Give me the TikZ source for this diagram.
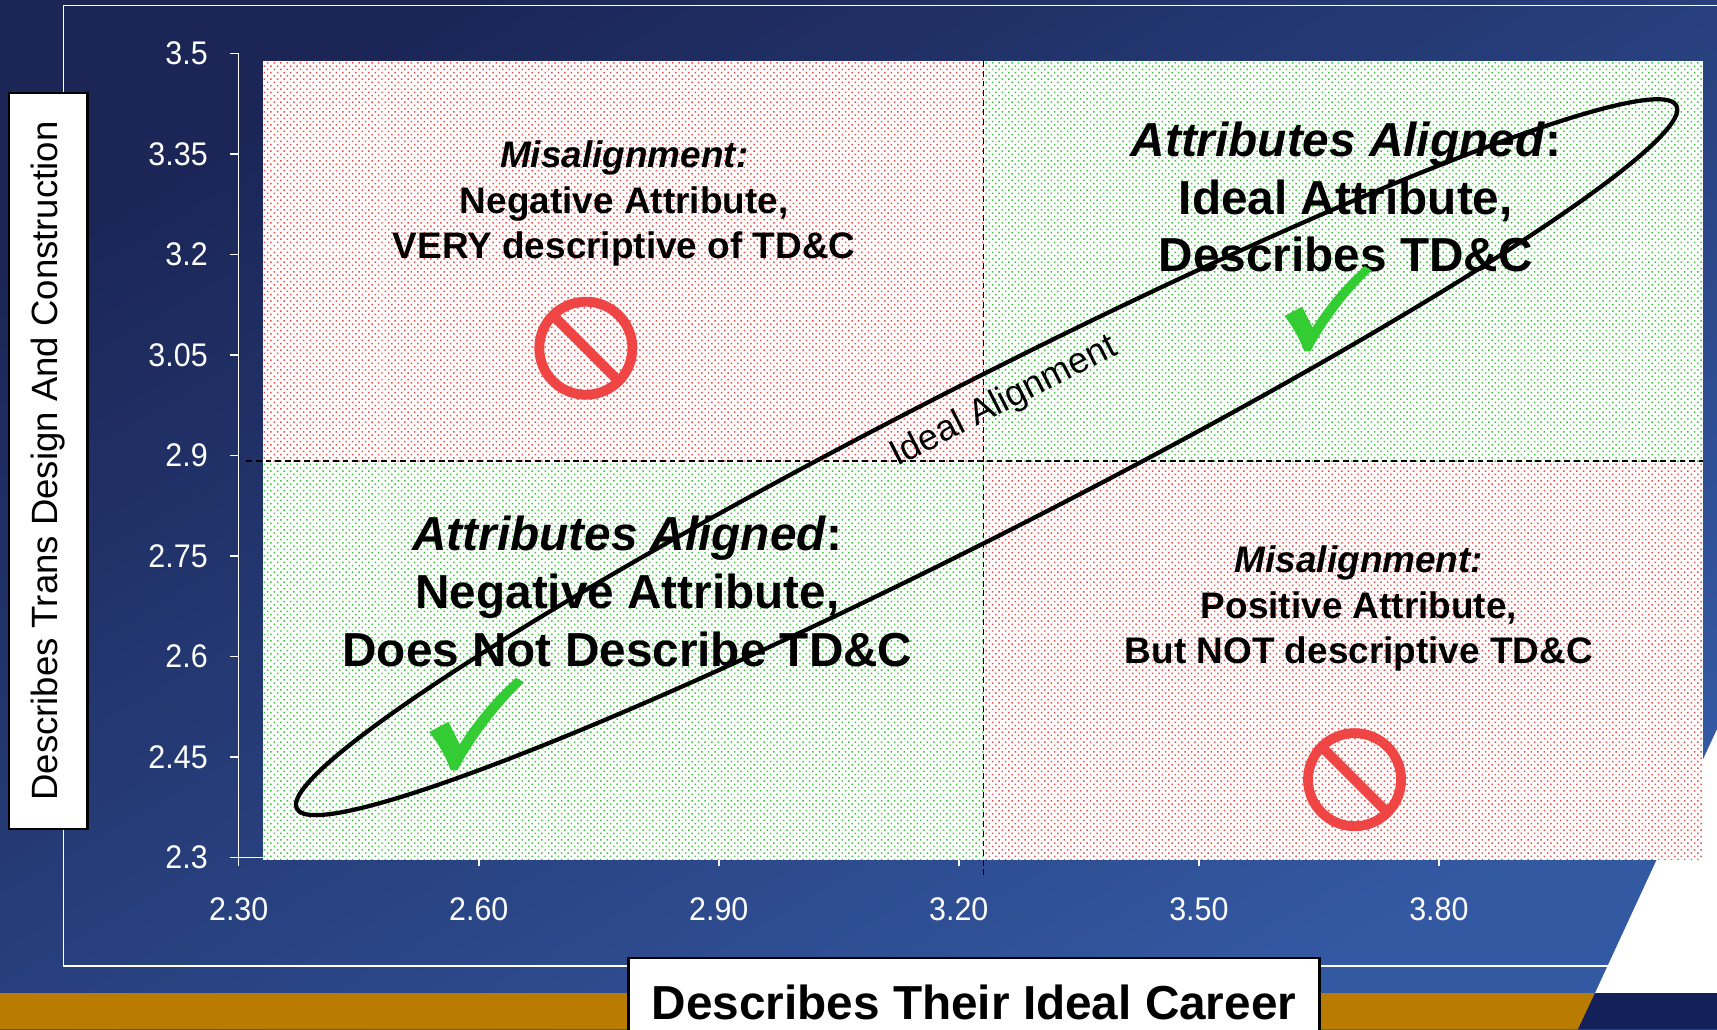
\documentclass[tikz,border=0pt]{standalone}
\usepackage{fontspec}
\setmainfont{Liberation Sans}
\usetikzlibrary{positioning,patterns.meta}
\definecolor{bgtop}{HTML}{1B2657}
\definecolor{bgbot}{HTML}{3459A3}
\definecolor{gold}{HTML}{B97C00}
\definecolor{navy}{HTML}{13205A}
\definecolor{pinkdot}{HTML}{F24848}
\definecolor{greendot}{HTML}{38C838}
\definecolor{stopred}{HTML}{F04545}
\definecolor{tickgreen}{HTML}{33CC33}
\newcommand\narrow[1]{\scalebox{0.93}[1]{#1}}

\begin{document}
\begin{tikzpicture}[x=0.02cm,y=-0.02cm,
  ticklab/.style={text=white,inner sep=0pt,font=\fontsize{17}{17}\selectfont},
  quadbig/.style={align=center,font=\fontsize{24.8}{30}\selectfont\bfseries},
  quadsmall/.style={align=center,font=\fontsize{19.2}{23.6}\selectfont\bfseries},
  axislabel/.style={draw=black,fill=white,line width=1.2pt,inner sep=0pt},
  divider/.style={line width=0.6pt,dash pattern=on 3pt off 2pt},
  nosign/.style={stopred,line width=0.18cm},
  mispink/.style={pattern={Dots[distance=2.4pt,radius=0.55pt,angle=45]},pattern color=pinkdot},
  okgreen/.style={pattern={Dots[distance=2.4pt,radius=0.55pt,angle=45]},pattern color=greendot}]

  \clip (0,0) rectangle (1568,940);
  \shade[top color=bgtop,bottom color=bgbot,shading angle=30] (0,0) rectangle (1568,940);
  \draw[white,line width=1pt] (1568,5) -- (58,5) -- (58,882) -- (1568,882);
  \fill[white] (1568,666) -- (1456.6,907) -- (1568,907) -- cycle;
  \fill[gold] (0,907) -- (1456.6,907) -- (1441,940) -- (0,940) -- cycle;
  \fill[navy] (1456.6,907) -- (1568,907) -- (1568,940) -- (1441,940) -- cycle;

  \draw[white,line width=0.8pt] (218,49) -- (218,791) (218,783) -- (1555,783);
  \foreach \yy/\lab [count=\i] in {49/3.5,140.75/3.35,232.5/3.2,324.25/3.05,416/2.9,507.75/2.75,599.5/2.6,691.25/2.45,783/2.3} {
    \coordinate (yt\i) at (218,\yy);
    \draw[white,line width=0.8pt] (210,\yy) -- (yt\i);
    \node[ticklab,left=0.56cm of yt\i] (ylab\i) {\narrow{\lab}};
  }
  \foreach \xx/\lab [count=\i] in {218/2.30,437.2/2.60,656.4/2.90,875.6/3.20,1094.8/3.50,1314/3.80} {
    \coordinate (xt\i) at (\xx,783);
    \draw[white,line width=0.8pt] (xt\i) -- (\xx,791);
    \node[ticklab,below=0.72cm of xt\i] (xlab\i) {\narrow{\lab}};
  }

  \fill[white] (240,56) rectangle (1555,785);
  \fill[mispink] (240,56) rectangle (898,421);
  \fill[okgreen] (898,56) rectangle (1555,421);
  \fill[okgreen] (240,421) rectangle (898,785);
  \fill[mispink] (898,421) rectangle (1555,785);
  \draw[divider] (898,56) -- (898,800);
  \draw[divider] (225,421) -- (1555,421);

  \node[quadsmall] (misTL) at (570,186) {\textit{Misalignment:}\\Negative Attribute,\\VERY descriptive of TD\&C};
  \node[quadbig] (alignTR) at (1229,180) {\textit{Attributes Aligned}:\\Ideal Attribute,\\Describes TD\&C};
  \node[quadbig] (alignBL) at (573,540) {\textit{Attributes Aligned}:\\Negative Attribute,\\Does Not Describe TD\&C};
  \node[quadsmall] (misBR) at (1241,556) {\textit{Misalignment:}\\Positive Attribute,\\But NOT descriptive TD\&C};

  \node[axislabel,rotate=90,minimum width=13.44cm,minimum height=1.44cm,font=\fontsize{19}{19}\selectfont] (ytitle) at (44,421) {Describes Trans Design And Construction};
  \node[axislabel,anchor=north,minimum width=12.62cm,minimum height=1.6cm,font=\fontsize{24.8}{24.8}\selectfont\bfseries] (xtitle) at (889.5,874) {Describes Their Ideal Career};

  \foreach \cx/\cy in {535/318,1237/712} {
    \draw[nosign] (\cx,\cy) circle (42.5);
    \draw[nosign] (\cx-30,\cy-30) -- (\cx+30,\cy+30);
  }
  \foreach \cx/\cy/\s in {392/619/1.03,1173/243/0.95}
    \fill[tickgreen,shift={(\cx,\cy)},scale=\s] (0,48) -- (17,39) -- (27,59) .. controls (42,35) and (60,15) .. (77,0) -- (84,4) .. controls (61,26) and (39,55) .. (25,82) -- (19,82) .. controls (14,68) and (7,57) .. (0,48) -- cycle;

  \draw[line width=2.2pt,rotate around={27:(901,417.5)}] (901,417.5) ellipse (707 and 69);
  \node[rotate=27,font=\fontsize{18.8}{18.8}\selectfont] (ideal) at (917,367) {Ideal Alignment};
\end{tikzpicture}
\end{document}
